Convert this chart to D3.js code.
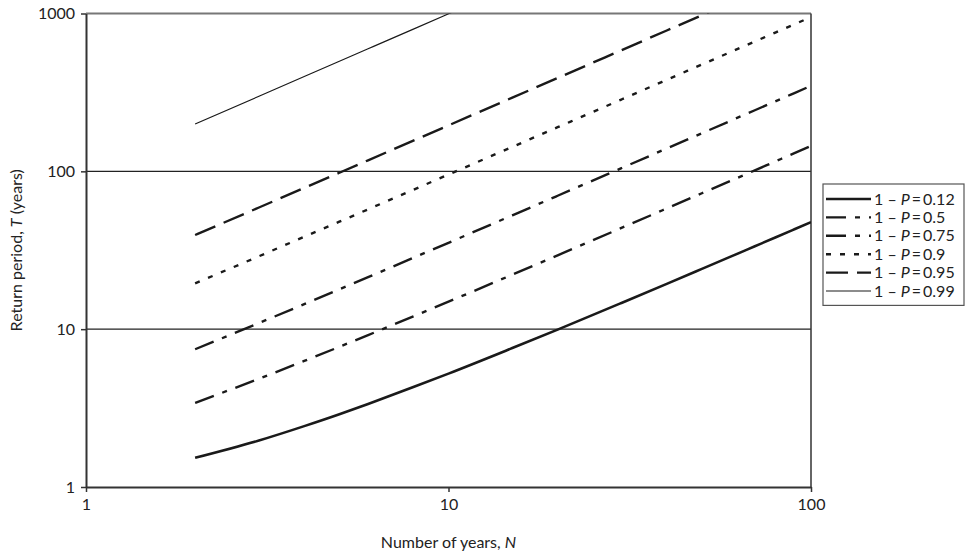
<!DOCTYPE html>
<html><head><meta charset="utf-8">
<script src="https://cdn.jsdelivr.net/npm/d3@7/dist/d3.min.js"></script>
<style>
body{margin:0;background:#fff;}
svg{display:block;font-family:Lato,"Open Sans",sans-serif;}
</style></head>
<body>
<svg id="chart" width="969" height="553"></svg>
<script>
// Data (return period T vs number of years N)
const years = [2,3,4,5,6,8,10,15,20,30,40,50,60,70,80,90,100];
const p012 = [1.53,1.97,2.43,2.89,3.36,4.30,5.23,7.59,9.94,14.66,19.37,24.09,28.80,33.52,38.23,42.95,47.67];
const p050 = [3.41,4.85,6.29,7.73,9.17,12.05,14.93,22.14,29.36,43.78,58.21,72.64,87.06,101.49,115.92,130.34,144.77];
const p075 = [7.46,10.94,14.41,17.89,21.36,28.31,35.26,52.64,70.02,104.78,139.54,174.30,209.06,243.83,278.59,313.35,348.11];
const p090 = [19.49,28.98,38.47,47.96,57.45,76.43,95.41,142.87,190.33,285.24,380.15,475.06,569.98,664.89,759.80,854.71,949.62];
const p095 = [39.49,58.99,78.48,97.98,117.47,156.47,195.46,292.94,390.42,585.37,780.33,975.29,1170.3,null,null,null,null];
const p099 = [199.5,299.0,398.5,498.0,597.5,796.5,995.5,1493.0,null,null,null,null,null,null,null,null,null];
const seriesLabels = ["0.12","0.5","0.75","0.9","0.95","0.99"];
const xTicks = [1,10,100];
const yTicks = [1,10,100,1000];

const series = [
  {label:seriesLabels[0], values:p012, dash:null, width:2.6},
  {label:seriesLabels[1], values:p050, dash:"20,9,5,9", width:2.4},
  {label:seriesLabels[2], values:p075, dash:"20,9,5,9", width:2.4},
  {label:seriesLabels[3], values:p090, dash:"5,9", width:2.4},
  {label:seriesLabels[4], values:p095, dash:"22,9", width:2.4},
  {label:seriesLabels[5], values:p099, dash:null, width:1.2}
];

const FONT = "Lato, 'Open Sans', sans-serif";
const svg = d3.select("#chart");
const L=86, R=811, T=13.5, B=487;
const x = d3.scaleLog().domain([1,100]).range([L,R]);
const y = d3.scaleLog().domain([1,1000]).range([B,T]);

svg.append("defs").append("clipPath").attr("id","clip")
  .append("rect").attr("x",L).attr("y",T).attr("width",R-L).attr("height",B-T);

// gridlines
svg.append("g").selectAll("line").data([10,100]).join("line")
  .attr("x1",L).attr("x2",R).attr("y1",d=>y(d)).attr("y2",d=>y(d))
  .attr("stroke","#222").attr("stroke-width",1.3);

// plot border (top/right)
svg.append("line").attr("x1",L).attr("x2",R).attr("y1",T).attr("y2",T)
  .attr("stroke","#777").attr("stroke-width",2);
svg.append("line").attr("x1",R).attr("x2",R).attr("y1",T).attr("y2",B)
  .attr("stroke","#333").attr("stroke-width",1.5);

// lines
const line = d3.line()
  .defined(d=>d[1]!=null)
  .curve(d3.curveMonotoneX)
  .x(d=>x(d[0])).y(d=>y(d[1]));
const gLines = svg.append("g").attr("clip-path","url(#clip)");
series.forEach(s=>{
  gLines.append("path")
    .datum(years.map((n,i)=>[n,s.values[i]]))
    .attr("d",line)
    .attr("fill","none")
    .attr("stroke","#1a1a1a")
    .attr("stroke-width",s.width)
    .attr("stroke-dasharray",s.dash);
});

// axes
const yAxis = svg.append("g").attr("transform",`translate(${L},0)`)
  .call(d3.axisLeft(y).tickValues(yTicks).tickFormat(d3.format("d")).tickSize(5).tickSizeOuter(0).tickPadding(6));
const xAxis = svg.append("g").attr("transform",`translate(0,${B})`)
  .call(d3.axisBottom(x).tickValues(xTicks).tickFormat(d3.format("d")).tickSize(5).tickSizeOuter(0).tickPadding(7));
[yAxis,xAxis].forEach(a=>{
  a.select(".domain").attr("stroke","#333").attr("stroke-width",2);
  a.selectAll(".tick line").attr("stroke","#333").attr("stroke-width",1.5);
  a.selectAll("text").attr("font-size",16).attr("fill","#222").attr("font-family",FONT);
});

// axis titles
const xt = svg.append("text").attr("x",(L+R)/2).attr("y",548).attr("text-anchor","middle")
  .attr("font-size",16).attr("fill","#222");
xt.append("tspan").text("Number of years, ");
xt.append("tspan").attr("font-style","italic").text("N");

const yt = svg.append("text").attr("transform",`translate(22,${(T+B)/2}) rotate(-90)`)
  .attr("text-anchor","middle").attr("font-size",16).attr("fill","#222");
yt.append("tspan").text("Return period, ");
yt.append("tspan").attr("font-style","italic").text("T");
yt.append("tspan").text(" (years)");

// legend
const lg = svg.append("g");
const lgX=823, lgY=184, lgW=141, rowH=18.4;
lg.append("rect").attr("x",lgX).attr("y",lgY).attr("width",lgW).attr("height",rowH*6+11)
  .attr("fill","#fff").attr("stroke","#555").attr("stroke-width",1.2);
series.forEach((s,i)=>{
  const cy = lgY+15+i*rowH;
  lg.append("line").attr("x1",lgX+3).attr("x2",lgX+48).attr("y1",cy).attr("y2",cy)
    .attr("stroke","#1a1a1a").attr("stroke-width",s.width).attr("stroke-dasharray",s.dash);
  const t = lg.append("text").attr("x",lgX+51).attr("y",cy).attr("dy","0.35em")
    .attr("font-size",16).attr("fill","#222");
  t.append("tspan").text("1 \u2013 ");
  t.append("tspan").attr("font-style","italic").text("P");
  t.append("tspan").text("\u2009=\u2009"+s.label);
});
</script>
</body></html>
